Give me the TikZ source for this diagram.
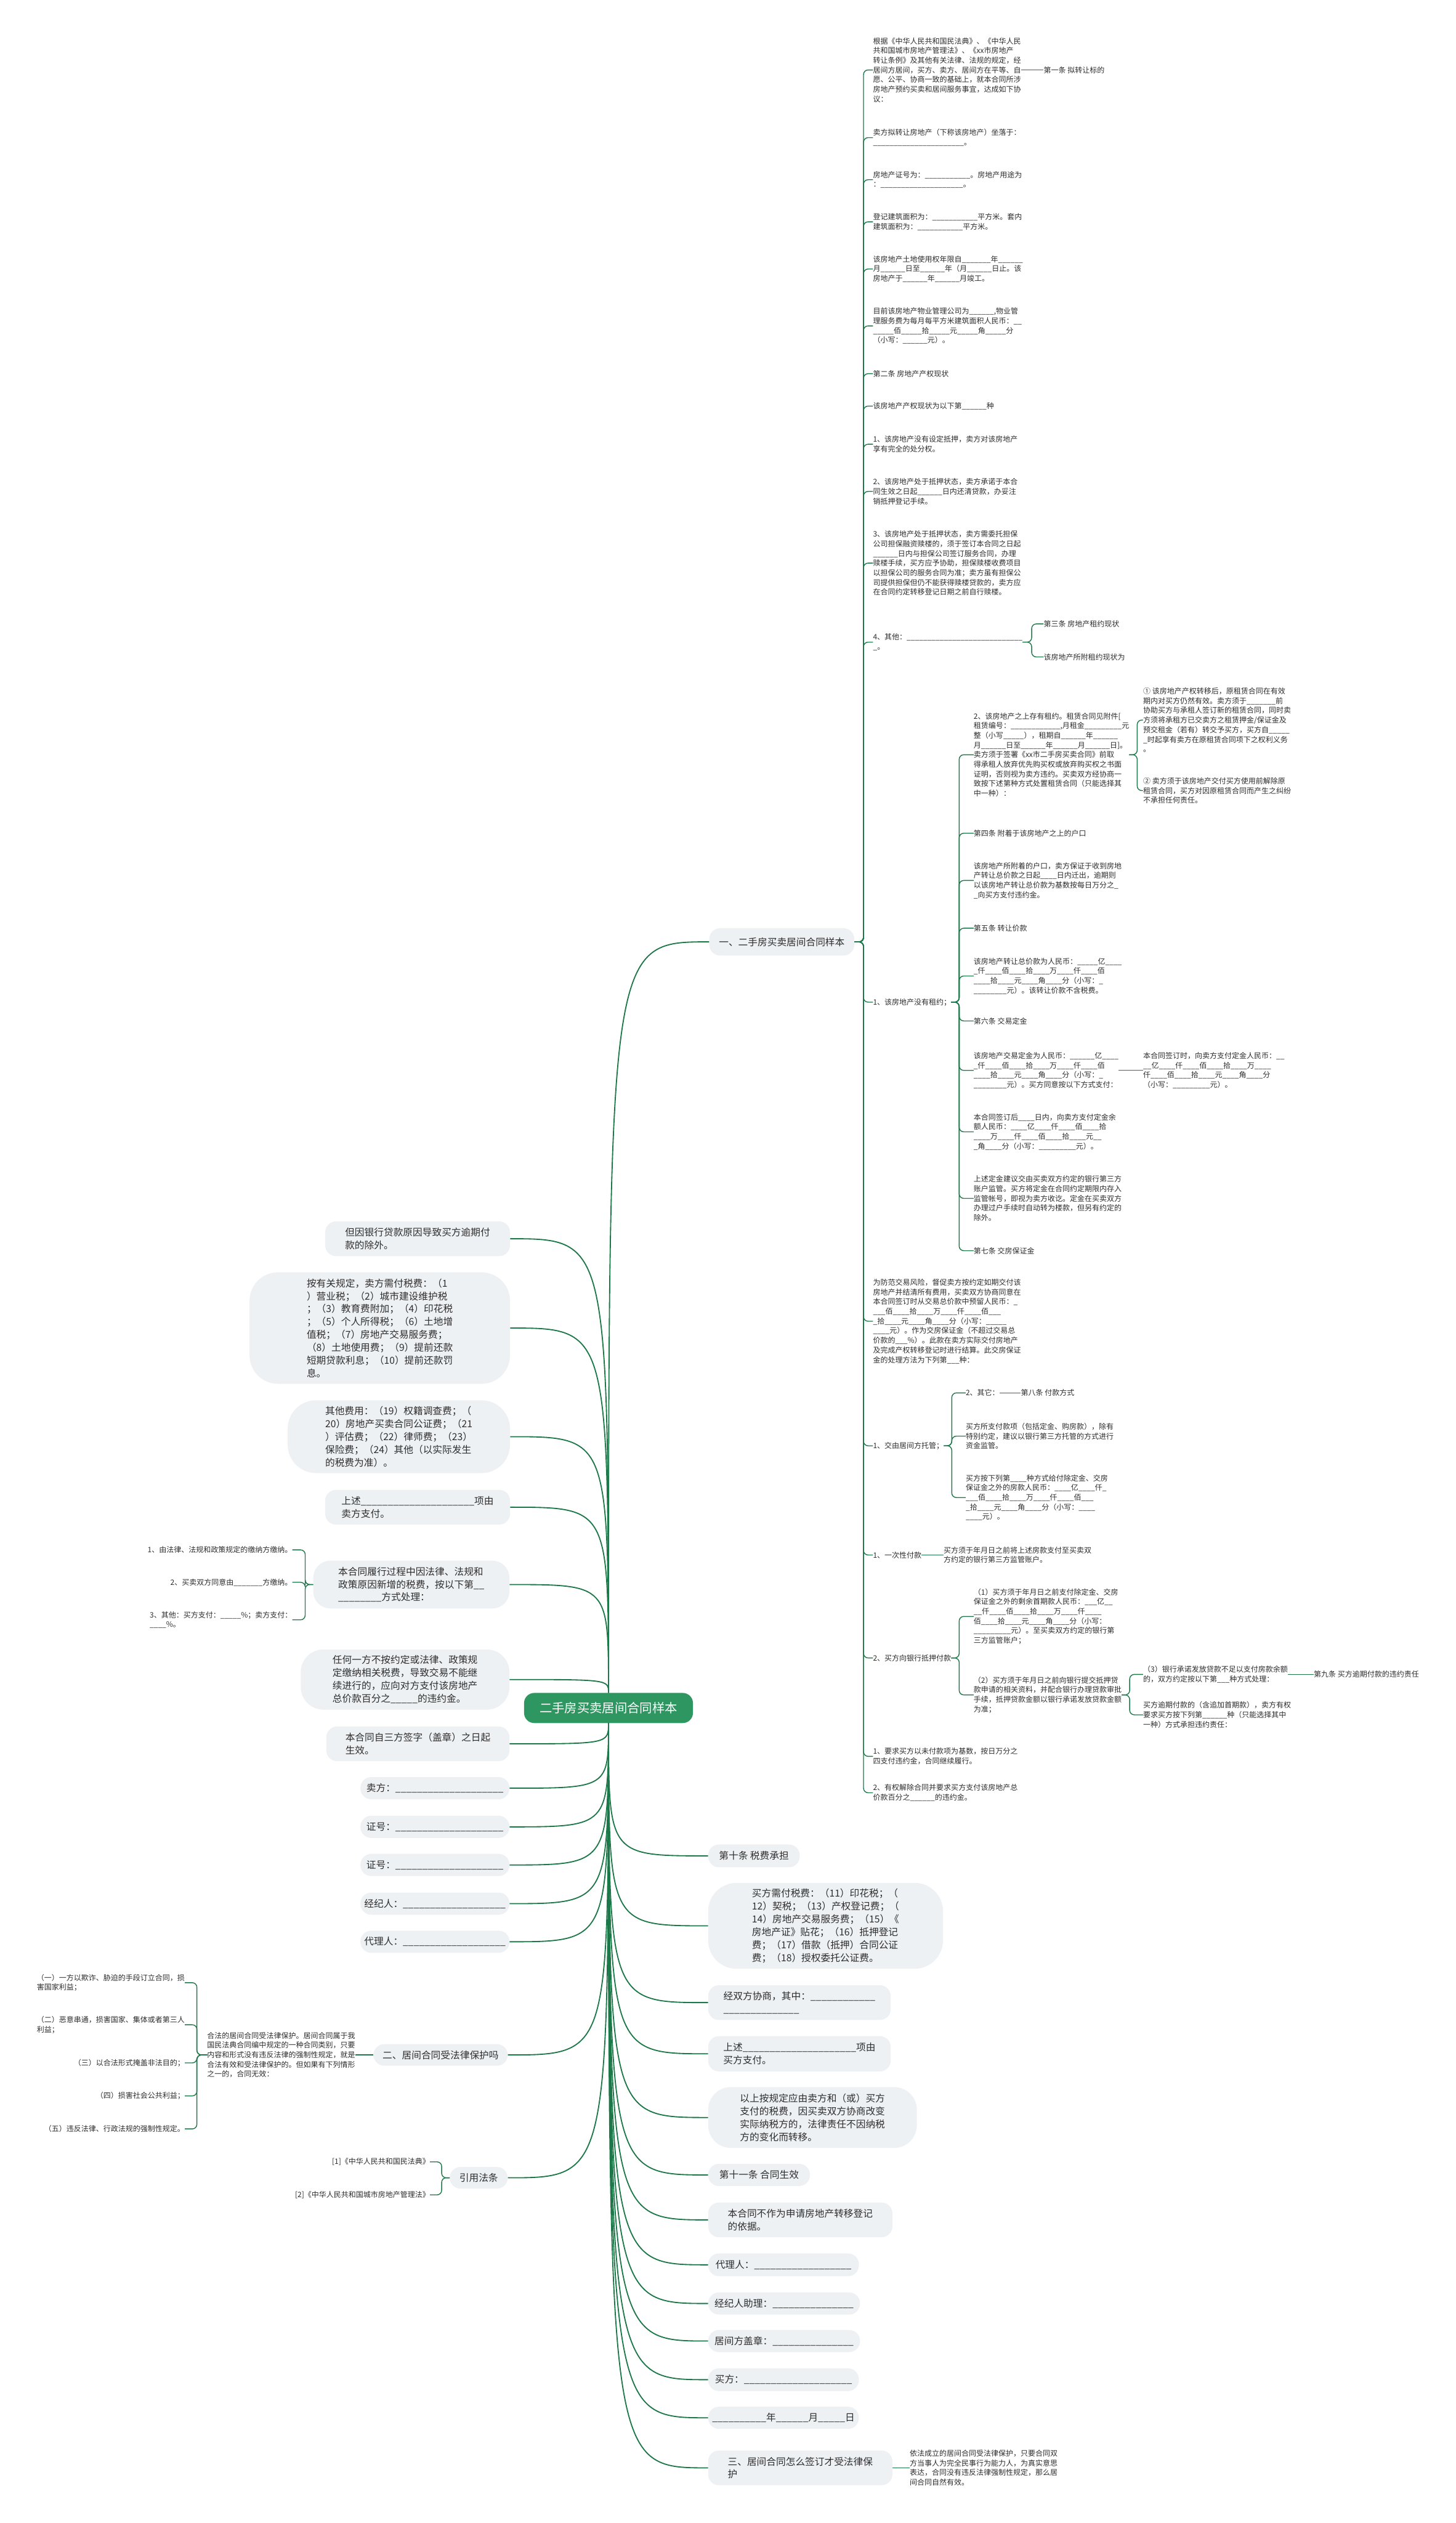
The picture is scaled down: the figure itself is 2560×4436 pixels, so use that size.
\documentclass[tikz,border=0pt]{standalone}
\usepackage{fontspec}
\setmainfont{Noto Sans CJK SC}
\usetikzlibrary{positioning}
\definecolor{rootgreen}{RGB}{46,150,96}
\definecolor{linkgreen}{RGB}{28,120,72}
\definecolor{bubgray}{RGB}{238,241,244}
\definecolor{inkgray}{RGB}{45,45,45}
% run of underscores
\newcommand\blnk[1]{\_\ifnum#1>1 \expandafter\blnk\expandafter{\number\numexpr#1-1\relax}\fi}

\begin{document}
\begin{tikzpicture}[x=1pt, y=-1pt,
  root/.style={rectangle, rounded corners=18pt, fill=rootgreen, text=white,
               font=\fontsize{22}{26}\selectfont, minimum width=297, minimum height=53},
  bub/.style={rectangle, rounded corners=19pt, fill=bubgray, text=inkgray, align=left,
              font=\fontsize{17}{22.6}\selectfont, inner sep=0pt},
  fat/.style={bub, rounded corners=50pt},
  leaf/.style={text=inkgray, align=left, font=\fontsize{13}{17}\selectfont,
               inner sep=0pt, anchor=west},
  link/.style={draw=linkgreen, line width=1.5pt},
  trunk/.style={draw=linkgreen, line width=2pt},
  elbow/.style={link, rounded corners=8pt}
]
\fill[white] (0,0) rectangle (2560,4436);
\useasboundingbox (0,0) rectangle (2560,4436);

% root
\node[root] (root) at (1070,3003) {二手房买卖居间合同样本};

% left branch
\node[bub, anchor=east, minimum width=325, minimum height=61] (L1) at (897,2178) {但因银行贷款原因导致买方逾期付\\款的除外。};
\node[fat, anchor=east, minimum width=458, minimum height=196] (L2) at (897,2335) {按有关规定，卖方需付税费：（1\\）营业税；（2）城市建设维护税\\；（3）教育费附加；（4）印花税\\；（5）个人所得税；（6）土地增\\值税；（7）房地产交易服务费；\\（8）土地使用费；（9）提前还款\\短期贷款利息；（10）提前还款罚\\息。};
\node[fat, anchor=east, minimum width=391, minimum height=128] (L3) at (897,2526) {其他费用：（19）权籍调查费；（\\20）房地产买卖合同公证费；（21\\）评估费；（22）律师费；（23）\\保险费；（24）其他（以实际发生\\的税费为准）。};
\node[bub, anchor=east, minimum width=325, minimum height=61] (L4) at (897,2650) {上述\blnk{21}项由\\卖方支付。};
\node[bub, anchor=east, minimum width=345, minimum height=84, rounded corners=30pt] (L5) at (896,2786) {本合同履行过程中因法律、法规和\\政策原因新增的税费，按以下第\_\_\\\blnk{8}方式处理：};
\node[fat, anchor=east, minimum width=367, minimum height=106, rounded corners=40pt] (L6) at (896,2953) {任何一方不按约定或法律、政策规\\定缴纳相关税费，导致交易不能继\\续进行的，应向对方支付该房地产\\总价款百分之\blnk{5}的违约金。};
\node[bub, anchor=east, minimum width=322, minimum height=61] (L7) at (896,3066) {本合同自三方签字（盖章）之日起\\生效。};
\node[bub, anchor=east, minimum width=262, minimum height=39] (L8) at (896,3144) {卖方：\blnk{20}};
\node[bub, anchor=east, minimum width=262, minimum height=39] (L9) at (896,3212) {证号：\blnk{20}};
\node[bub, anchor=east, minimum width=262, minimum height=39] (L10) at (896,3279) {证号：\blnk{20}};
\node[bub, anchor=east, minimum width=262, minimum height=39] (L11) at (896,3347) {经纪人：\blnk{19}};
\node[bub, anchor=east, minimum width=262, minimum height=39] (L12) at (896,3414) {代理人：\blnk{19}};
\node[bub, anchor=east, minimum width=236, minimum height=38] (L13) at (893,3613) {二、居间合同受法律保护吗};
\node[bub, anchor=east, minimum width=102, minimum height=38] (L14) at (893,3829) {引用法条};

\node[leaf, anchor=east] (v1) at (514,2725) {1、由法律、法规和政策规定的缴纳方缴纳。};
\node[leaf, anchor=east] (v2) at (514,2782) {2、买卖双方同意由\blnk{7}方缴纳。};
\node[leaf, anchor=east] (v3) at (514,2848) {3、其他：买方支付：\blnk{5}\%；卖方支付：\\\blnk{4}\%。};

\node[leaf, left=32pt of L13] (legal) {合法的居间合同受法律保护。居间合同属于我\\国民法典合同编中规定的一种合同类别，只要\\内容和形式没有违反法律的强制性规定，就是\\合法有效和受法律保护的。但如果有下列情形\\之一的，合同无效：};
\node[leaf, anchor=east] (w1) at (325,3486) {（一）一方以欺诈、胁迫的手段订立合同，损\\害国家利益；};
\node[leaf, anchor=east] (w2) at (325,3560) {（二）恶意串通，损害国家、集体或者第三人\\利益；};
\node[leaf, anchor=east] (w3) at (325,3627) {（三）以合法形式掩盖非法目的；};
\node[leaf, anchor=east] (w4) at (325,3685) {（四）损害社会公共利益；};
\node[leaf, anchor=east] (w5) at (325,3743) {（五）违反法律、行政法规的强制性规定。};

\node[leaf, anchor=east] (z1) at (756,3801) {[1]《中华人民共和国民法典》};
\node[leaf, anchor=east] (z2) at (756,3859) {[2]《中华人民共和国城市房地产管理法》};

% right branch
\node[bub, anchor=west, minimum width=255, minimum height=48] (n1) at (1247,1656) {一、二手房买卖居间合同样本};
\node[bub, anchor=west, minimum width=161, minimum height=40] (R1) at (1245,3263) {第十条 税费承担};
\node[fat, anchor=west, minimum width=413, minimum height=151] (R2) at (1245,3386) {买方需付税费：（11）印花税；（\\12）契税；（13）产权登记费；（\\14）房地产交易服务费；（15）《\\房地产证》贴花；（16）抵押登记\\费；（17）借款（抵押）合同公证\\费；（18）授权委托公证费。};
\node[bub, anchor=west, minimum width=321, minimum height=61] (R3) at (1245,3521) {经双方协商，其中：\blnk{12}\\\blnk{14}};
\node[bub, anchor=west, minimum width=321, minimum height=62] (R4) at (1245,3611) {上述\blnk{21}项由\\买方支付。};
\node[fat, anchor=west, minimum width=367, minimum height=107, rounded corners=40pt] (R5) at (1245,3723) {以上按规定应由卖方和（或）买方\\支付的税费，因买卖双方协商改变\\实际纳税方的，法律责任不因纳税\\方的变化而转移。};
\node[bub, anchor=west, minimum width=179, minimum height=39] (R6) at (1245,3824) {第十一条 合同生效};
\node[bub, anchor=west, minimum width=324, minimum height=61] (R7) at (1245,3903) {本合同不作为申请房地产转移登记\\的依据。};
\node[bub, anchor=west, minimum width=265, minimum height=40] (R8) at (1245,3982) {代理人：\blnk{18}};
\node[bub, anchor=west, minimum width=267, minimum height=39] (R9) at (1245,4050) {经纪人助理：\blnk{15}};
\node[bub, anchor=west, minimum width=267, minimum height=39] (R10) at (1245,4116) {居间方盖章：\blnk{15}};
\node[bub, anchor=west, minimum width=265, minimum height=40] (R11) at (1245,4184) {买方：\blnk{20}};
\node[bub, anchor=west, minimum width=265, minimum height=39] (R12) at (1245,4251) {\blnk{10}年\blnk{6}月\blnk{5}日};
\node[bub, anchor=west, minimum width=324, minimum height=61] (R13) at (1245,4339) {三、居间合同怎么签订才受法律保\\护};
\node[leaf, right=30pt of R13] (r13t) {依法成立的居间合同受法律保护，只要合同双\\方当事人为完全民事行为能力人，为真实意思\\表达，合同没有违反法律强制性规定，那么居\\间合同自然有效。};

% children of n1
\node[leaf] (c1) at (1535,123) {根据《中华人民共和国民法典》、《中华人民\\共和国城市房地产管理法》、《xx市房地产\\转让条例》及其他有关法律、法规的规定，经\\居间方居间，买方、卖方、居间方在平等、自\\愿、公平、协商一致的基础上，就本合同所涉\\房地产预约买卖和居间服务事宜，达成如下协\\议：};
\node[leaf] (t1) at (1835,123) {第一条 拟转让标的};
\node[leaf] (c2) at (1535,242) {卖方拟转让房地产（下称该房地产）坐落于：\\\blnk{22}。};
\node[leaf] (c3) at (1535,316) {房地产证号为：\blnk{11}。房地产用途为\\：\blnk{20}。};
\node[leaf] (c4) at (1535,390) {登记建筑面积为：\blnk{11}平方米。套内\\建筑面积为：\blnk{11}平方米。};
\node[leaf] (c5) at (1535,473) {该房地产土地使用权年限自\blnk{7}年\blnk{6}\\月\blnk{6}日至\blnk{6}年（月\blnk{6}日止。该\\房地产于\blnk{6}年\blnk{6}月竣工。};
\node[leaf] (c6) at (1535,573) {目前该房地产物业管理公司为\blnk{6},物业管\\理服务费为每月每平方米建筑面积人民币：\blnk{2}\\\blnk{5}佰\blnk{5}拾\blnk{5}元\blnk{5}角\blnk{5}分\\（小写：\blnk{6}元）。};
\node[leaf] (c7) at (1535,657) {第二条 房地产产权现状};
\node[leaf] (c8) at (1535,714) {该房地产产权现状为以下第\blnk{6}种};
\node[leaf] (c9) at (1535,781) {1、该房地产没有设定抵押，卖方对该房地产\\享有完全的处分权。};
\node[leaf] (c10) at (1535,864) {2、该房地产处于抵押状态，卖方承诺于本合\\同生效之日起\blnk{6}日内还清贷款，办妥注\\销抵押登记手续。};
\node[leaf] (c11) at (1535,990) {3、该房地产处于抵押状态，卖方需委托担保\\公司担保融资赎楼的，须于签订本合同之日起\\\blnk{6}日内与担保公司签订服务合同，办理\\赎楼手续，买方应予协助，担保赎楼收费项目\\以担保公司的服务合同为准；卖方虽有担保公\\司提供担保但仍不能获得赎楼贷款的，卖方应\\在合同约定转移登记日期之前自行赎楼。};
\node[leaf] (c12) at (1535,1129) {4、其他：\blnk{28}\\\_。};
\node[leaf] (k1) at (1835,1097) {第三条 房地产租约现状};
\node[leaf] (k2) at (1835,1155) {该房地产所附租约现状为};
\node[leaf] (c13) at (1535,1762) {1、该房地产没有租约；};
\node[leaf] (c14) at (1535,2323) {为防范交易风险，督促卖方按约定如期交付该\\房地产并结清所有费用，买卖双方协商同意在\\本合同签订时从交易总价款中预留人民币：\_\\\blnk{3}佰\blnk{4}拾\blnk{4}万\blnk{4}仟\blnk{4}佰\blnk{3}\\\_拾\blnk{4}元\blnk{4}角\blnk{4}分（小写：\blnk{5}\\\blnk{4}元）。作为交房保证金（不超过交易总\\价款的\blnk{3}\%）。此款在卖方实际交付房地产\\及完成产权转移登记时进行结算。此交房保证\\金的处理方法为下列第\blnk{3}种：};
\node[leaf] (c15) at (1535,2542) {1、交由居间方托管；};
\node[leaf] (c16) at (1535,2734) {1、一次性付款};
\node[leaf] (c16t) at (1659,2734) {买方须于年月日之前将上述房款支付至买卖双\\方约定的银行第三方监管账户。};
\node[leaf] (c17) at (1535,2915) {2、买方向银行抵押付款};
\node[leaf] (c18) at (1535,3088) {1、要求买方以未付款项为基数，按日万分之\\四支付违约金，合同继续履行。};
\node[leaf] (c19) at (1535,3152) {2、有权解除合同并要求买方支付该房地产总\\价款百分之\blnk{6}的违约金。};

% under c13
\node[leaf] (d1) at (1712,1327) {2、该房地产之上存有租约。租赁合同见附件[\\租赁编号：\blnk{12},月租金\blnk{9}元\\整（小写\blnk{5}），租期自\blnk{6}年\blnk{6}\\月\blnk{6}日至\blnk{6}年\blnk{6}月\blnk{6}日]。\\卖方须于签署《xx市二手房买卖合同》前取\\得承租人放弃优先购买权或放弃购买权之书面\\证明，否则视为卖方违约。买卖双方经协商一\\致按下述第种方式处置租赁合同（只能选择其\\中一种）：};
\node[leaf] (e1) at (2010,1266) {① 该房地产产权转移后，原租赁合同在有效\\期内对买方仍然有效。卖方须于\blnk{7}前\\协助买方与承租人签订新的租赁合同，同时卖\\方须将承租方已交卖方之租赁押金/保证金及\\预交租金（若有）转交予买方，买方自\blnk{5}\\\_时起享有卖方在原租赁合同项下之权利义务\\。};
\node[leaf] (e2) at (2010,1390) {② 卖方须于该房地产交付买方使用前解除原\\租赁合同，买方对因原租赁合同而产生之纠纷\\不承担任何责任。};
\node[leaf] (d2) at (1712,1465) {第四条 附着于该房地产之上的户口};
\node[leaf] (d3) at (1712,1548) {该房地产所附着的户口，卖方保证于收到房地\\产转让总价款之日起\blnk{4}日内迁出，逾期则\\以该房地产转让总价款为基数按每日万分之\_\\\_向买方支付违约金。};
\node[leaf] (d4) at (1712,1632) {第五条 转让价款};
\node[leaf] (d5) at (1712,1716) {该房地产转让总价款为人民币：\blnk{5}亿\blnk{4}\\\_仟\blnk{4}佰\blnk{4}拾\blnk{4}万\blnk{4}仟\blnk{4}佰\\\blnk{4}拾\blnk{4}元\blnk{4}角\blnk{4}分（小写：\_\\\blnk{8}元）。该转让价款不含税费。};
\node[leaf] (d6) at (1712,1795) {第六条 交易定金};
\node[leaf] (d7) at (1712,1882) {该房地产交易定金为人民币：\blnk{6}亿\blnk{4}\\\_仟\blnk{4}佰\blnk{4}拾\blnk{4}万\blnk{4}仟\blnk{4}佰\\\blnk{4}拾\blnk{4}元\blnk{4}角\blnk{4}分（小写：\_\\\blnk{8}元）。买方同意按以下方式支付：};
\node[leaf] (e3) at (2010,1882) {本合同签订时，向卖方支付定金人民币：\blnk{2}\\\blnk{2}亿\blnk{4}仟\blnk{4}佰\blnk{4}拾\blnk{4}万\blnk{4}\\仟\blnk{4}佰\blnk{4}拾\blnk{4}元\blnk{4}角\blnk{4}分\\（小写：\blnk{9}元）。};
\node[leaf] (d8) at (1712,1990) {本合同签订后\blnk{4}日内，向卖方支付定金余\\额人民币：\blnk{4}亿\blnk{4}仟\blnk{4}佰\blnk{4}拾\\\blnk{4}万\blnk{4}仟\blnk{4}佰\blnk{4}拾\blnk{4}元\blnk{2}\\\_角\blnk{4}分（小写：\blnk{9}元）。};
\node[leaf] (d9) at (1712,2107) {上述定金建议交由买卖双方约定的银行第三方\\账户监管。买方将定金在合同约定期限内存入\\监管帐号，即视为卖方收讫。定金在买卖双方\\办理过户手续时自动转为楼款，但另有约定的\\除外。};
\node[leaf] (d10) at (1712,2199) {第七条 交房保证金};

% under c15
\node[leaf] (f1) at (1698,2449) {2、其它：};
\node[leaf] (f1t) at (1795,2449) {第八条 付款方式};
\node[leaf] (f2) at (1698,2525) {买方所支付款项（包括定金、购房款），除有\\特别约定，建议以银行第三方托管的方式进行\\资金监管。};
\node[leaf] (f3) at (1698,2633) {买方按下列第\blnk{4}种方式给付除定金、交房\\保证金之外的房款人民币：\blnk{4}亿\blnk{4}仟\_\\\blnk{3}佰\blnk{4}拾\blnk{4}万\blnk{4}仟\blnk{4}佰\blnk{3}\\\_拾\blnk{4}元\blnk{4}角\blnk{4}分（小写：\blnk{4}\\\blnk{4}元）。};

% under c17
\node[leaf] (g1) at (1712,2842) {（1）买方须于年月日之前支付除定金、交房\\保证金之外的剩余首期款人民币：\blnk{3}亿\blnk{2}\\\blnk{2}仟\blnk{4}佰\blnk{4}拾\blnk{4}万\blnk{4}仟\blnk{4}\\佰\blnk{4}拾\blnk{4}元\blnk{4}角\blnk{4}分（小写：\\\blnk{9}元）。至买卖双方约定的银行第\\三方监管账户；};
\node[leaf] (g2) at (1712,2980) {（2）买方须于年月日之前向银行提交抵押贷\\款申请的相关资料，并配合银行办理贷款审批\\手续，抵押贷款金额以银行承诺发放贷款金额\\为准；};
\node[leaf] (h1) at (2010,2944) {（3）银行承诺发放贷款不足以支付房款余额\\的，双方约定按以下第\blnk{3}种方式处理：};
\node[leaf] (h1t) at (2310,2944) {第九条 买方逾期付款的违约责任};
\node[leaf] (h2) at (2010,3015) {买方逾期付款的（含追加首期款），卖方有权\\要求买方按下列第\blnk{6}种（只能选择其中\\一种）方式承担违约责任：};

% connectors from the root
\foreach \i in {1,...,6}
  \draw[trunk] (root.north) .. controls (root.north |- L\i.east) .. (L\i.east);
\foreach \i in {7,...,14}
  \draw[trunk] (root.south) .. controls (root.south |- L\i.east) .. (L\i.east);
\foreach \i in {1,...,13}
  \draw[trunk] (root.south) .. controls (root.south |- R\i.west) .. (R\i.west);
\draw[trunk] (root.north) .. controls (root.north |- n1.west) .. (n1.west);

% brackets
\foreach \i in {1,...,19}
  \draw[elbow] (n1.east) -- ++(16,0) |- (c\i.west);
\foreach \k in {k1,k2}
  \draw[elbow] (c12.east) -- ++(16,0) |- (\k.west);
\foreach \i in {1,...,10}
  \draw[elbow] (c13.east) -- ++(14,0) |- (d\i.west);
\foreach \i in {1,2}
  \draw[elbow] (d1.east) -- ++(14,0) |- (e\i.west);
\foreach \i in {1,2,3}
  \draw[elbow] (c15.east) -- ++(14,0) |- (f\i.west);
\foreach \i in {1,2}
  \draw[elbow] (c17.east) -- ++(14,0) |- (g\i.west);
\foreach \i in {1,2}
  \draw[elbow] (g2.east) -- ++(14,0) |- (h\i.west);
\foreach \i in {1,2,3}
  \draw[elbow] (L5.west) -- ++(-14,0) |- (v\i.east);
\foreach \i in {1,...,5}
  \draw[elbow] (legal.west) -- ++(-18,0) |- (w\i.east);
\foreach \i in {1,2}
  \draw[elbow] (L14.west) -- ++(-14,0) |- (z\i.east);

% single followers
\draw[link] (c1.east) -- (t1.west);
\draw[link] (d7.east) -- (e3.west);
\draw[link] (f1.east) -- (f1t.west);
\draw[link] (c16.east) -- (c16t.west);
\draw[link] (h1.east) -- (h1t.west);
\draw[link] (L13.west) -- (legal.east);
\draw[link] (R13.east) -- (r13t.west);
\end{tikzpicture}
\end{document}
